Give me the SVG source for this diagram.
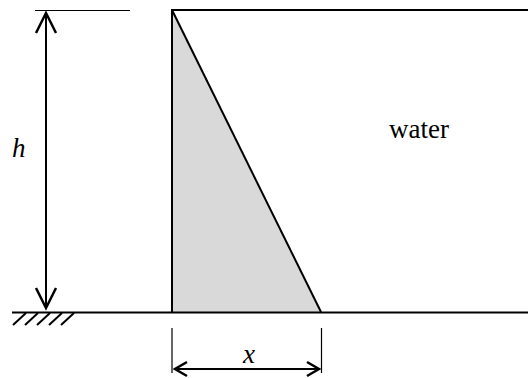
<svg xmlns="http://www.w3.org/2000/svg" width="528" height="378" viewBox="0 0 528 378">
<style>
.ln{stroke:#000;stroke-width:2;fill:none}
.thin{stroke:#000;stroke-width:1.2;fill:none}
.ah{stroke:#000;stroke-width:2.5;fill:none;stroke-linejoin:miter}
.lbl{font-family:'Liberation Serif',Tinos,'Times New Roman',serif;font-size:27px;fill:#000}
.it{font-style:italic}
</style>
<rect width="528" height="378" fill="#fff"/>
<g id="water-wedge">
<polygon points="172,10 172,312 321,312" fill="#d9d9d9"/>
<line class="ln" x1="172" y1="10" x2="321" y2="312"/>
</g>
<g id="wall">
<line class="ln" x1="172" y1="10" x2="172" y2="312"/>
<line class="ln" x1="171" y1="10" x2="528" y2="10"/>
</g>
<g id="ground">
<line class="ln" x1="12" y1="312.5" x2="528" y2="312.5"/>
<g class="ln">
<line x1="13" y1="325" x2="26" y2="313"/>
<line x1="25" y1="325" x2="38" y2="313"/>
<line x1="37" y1="325" x2="50" y2="313"/>
<line x1="49" y1="325" x2="62" y2="313"/>
<line x1="61" y1="325" x2="74" y2="313"/>
</g>
</g>
<g id="connectors">
<line class="thin" x1="35" y1="10.5" x2="130" y2="10.5"/>
<line class="ln" x1="46" y1="13" x2="46" y2="308"/>
<polyline class="ah" points="36,33 46,13 56,33"/>
<polyline class="ah" points="36,288 46,308 56,288"/>
<line class="thin" x1="172" y1="328" x2="172" y2="373"/>
<line class="thin" x1="321.5" y1="328" x2="321.5" y2="373"/>
<line class="ln" x1="175" y1="369" x2="319" y2="369"/>
<polyline class="ah" points="187,362 175,369 187,376"/>
<polyline class="ah" points="307,362 319,369 307,376"/>
</g>
<g id="labels">
<text class="lbl it" x="12" y="157" font-family="Liberation Serif, serif">h</text>
<text class="lbl it" x="243" y="363" font-family="Liberation Serif, serif">x</text>
<text class="lbl" x="389" y="138" font-family="Liberation Serif, serif">water</text>
</g>
</svg>
